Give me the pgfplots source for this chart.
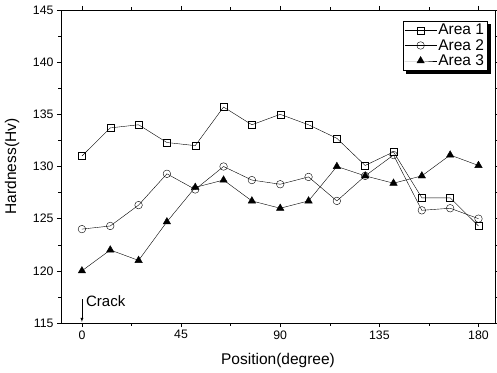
\documentclass[border=0pt]{standalone}
\usepackage{fontspec}
\setmainfont{Liberation Sans}
\usepackage{pgfplots}
\pgfplotsset{compat=1.18}
\begin{document}
\begin{tikzpicture}[x=1pt,y=1pt]
\begin{axis}[
  at={(61pt,49pt)}, anchor=south west,
  scale only axis, width=434pt, height=313pt,
  xmin=-9.5, xmax=187.5, ymin=115, ymax=145,
  xtick={0,45,90,135,180}, minor x tick num=1,
  ytick={115,120,...,145}, minor y tick num=1,
  tick align=outside,
  major tick length=4pt, minor tick length=2.5pt,
  xtick style={black, thin}, ytick style={black, thin},
  axis line style={black, line width=0.9pt},
  /pgf/number format/assume math mode=true,
  ticklabel style={font=\fontsize{12.3}{14}\selectfont},
  xlabel={Position(degree)}, ylabel={Hardness(Hv)},
  every axis x label/.style={at={(rel axis cs:0.5,0)}, anchor=center, yshift=-37pt, font=\fontsize{15.5}{18}\selectfont},
  every axis y label/.style={at={(rel axis cs:0,0.5)}, xshift=-49pt, rotate=90, anchor=center, font=\fontsize{15.5}{18}\selectfont},
  legend style={name=leg, at={(rel axis cs:0.982,0.965)}, anchor=north east,
    draw=black, thin, font=\fontsize{15.5}{18}\selectfont,
    inner sep=1.5pt, row sep=0pt, nodes={inner sep=1.5pt}},
  legend cell align=left,
  legend image code/.code={\draw[mark repeat=2, mark phase=2] plot coordinates {(0pt,0pt) (16pt,0pt) (32pt,0pt)};},
  every axis plot/.append style={black, thin},
]
\addplot[mark=square, mark size=3.5pt, mark options={fill=white}] coordinates {
(0,131) (12.857,133.7) (25.714,134) (38.571,132.3) (51.429,132) (64.286,135.7) (77.143,134) (90,135) (102.857,134) (115.714,132.7) (128.571,130.1) (141.429,131.4) (154.286,127) (167.143,127) (180,124.3)};
\addlegendentry{Area 1}
\addplot[mark=o, mark size=3.8pt, mark options={fill=white}] coordinates {
(0,124) (12.857,124.3) (25.714,126.3) (38.571,129.3) (51.429,127.8) (64.286,130) (77.143,128.7) (90,128.3) (102.857,129) (115.714,126.7) (128.571,129.1) (141.429,131.1) (154.286,125.8) (167.143,126) (180,125)};
\addlegendentry{Area 2}
\addplot[mark=triangle*, mark size=4.3pt, mark options={fill=black}] coordinates {
(0,120) (12.857,122) (25.714,121) (38.571,124.7) (51.429,128) (64.286,128.7) (77.143,126.7) (90,126) (102.857,126.7) (115.714,130) (128.571,129.1) (141.429,128.4) (154.286,129.1) (167.143,131.1) (180,130.1)};
\addlegendentry{Area 3}
\draw[-latex, thin] (axis cs:0,117.3) -- (axis cs:0,115.1);
\node[anchor=base west, font=\fontsize{15}{17}\selectfont, inner sep=0pt] at (axis cs:1.8,116.6) {Crack};
\end{axis}
\fill[black] ([yshift=-3pt]leg.north east) rectangle ([xshift=3.5pt,yshift=-3.5pt]leg.south east);
\fill[black] ([xshift=3pt]leg.south west) rectangle ([xshift=3.5pt,yshift=-3.5pt]leg.south east);
\pgfresetboundingbox
\useasboundingbox (0,0) rectangle (497,372);
\end{tikzpicture}
\end{document}
